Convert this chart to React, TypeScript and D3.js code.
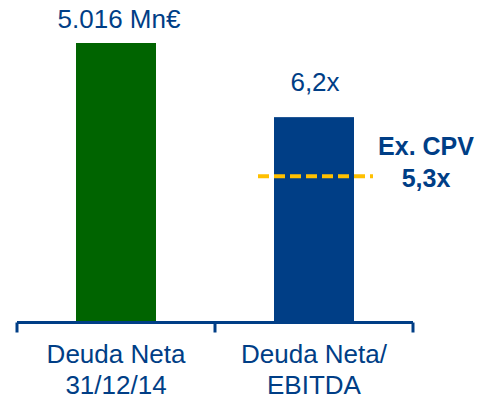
import React from 'react';
import * as d3 from 'd3';

// categories (two lines each)
const categories = ['debt', 'ratio'];
const categoryLabels = [
  ['Deuda Neta', '31/12/14'],
  ['Deuda Neta/', 'EBITDA'],
];

// values
const netDebt = 5016; // Mn€
const netDebtLabel = '5.016 Mn€';
const debtRatio = 6.2; // x EBITDA
const debtRatioLabel = '6,2x';
const exCpvRatio = 5.3;
const exCpvLabel = ['Ex. CPV', '5,3x'];

// the ratio axis is not zero based in the original graphic
const debtDomain = [0, 5016];
const ratioDomain = [3.07, 7.33];

const BLUE = '#003e86';
const GREEN = '#006400';
const YELLOW = '#ffc000';
const FONT = '"Liberation Sans", Arial, sans-serif';

export default function App() {
  const width = 479;
  const height = 400;
  const baseY = 322.5;
  const topY = 43;

  const x = d3.scaleBand().domain(categories).range([17, 413]).padding(0);
  const yDebt = d3.scaleLinear().domain(debtDomain).range([baseY, topY]);
  const yRatio = d3.scaleLinear().domain(ratioDomain).range([baseY, topY]);

  const barW = x.bandwidth() * 0.404;
  const cx = (c) => (x(c) ?? 0) + x.bandwidth() / 2;

  const ticks = [...categories.map((c) => x(c) ?? 0), x.range()[1]];
  const lineY = yRatio(exCpvRatio);

  return (
    <svg
      width={width}
      height={height}
      style={{ position: 'absolute', left: 0, top: 0 }}
      fontFamily={FONT}
    >
      {/* green bar: net debt */}
      <rect
        x={cx('debt') - barW / 2}
        y={yDebt(netDebt)}
        width={barW}
        height={yDebt(0) - yDebt(netDebt)}
        fill={GREEN}
      />
      <text
        x={cx('debt') + 3}
        y={yDebt(netDebt) - 15}
        textAnchor="middle"
        fontSize={26}
        fill={BLUE}
      >
        {netDebtLabel}
      </text>

      {/* blue bar: net debt / ebitda */}
      <rect
        x={cx('ratio') - barW / 2}
        y={yRatio(debtRatio)}
        width={barW}
        height={yRatio(ratioDomain[0]) - yRatio(debtRatio)}
        fill={BLUE}
      />
      <text
        x={cx('ratio') + 1}
        y={yRatio(debtRatio) - 26}
        textAnchor="middle"
        fontSize={26}
        fill={BLUE}
      >
        {debtRatioLabel}
      </text>

      {/* ex. CPV reference */}
      <line
        x1={cx('ratio') - barW / 2 - 16}
        x2={cx('ratio') + barW / 2 + 19}
        y1={lineY}
        y2={lineY}
        stroke={YELLOW}
        strokeWidth={4}
        strokeDasharray="11 5"
      />
      {exCpvLabel.map((l, i) => (
        <text
          key={i}
          x={426}
          y={lineY - 21 + i * 32}
          textAnchor="middle"
          fontSize={25}
          fontWeight="bold"
          fill={BLUE}
        >
          {l}
        </text>
      ))}

      {/* axis */}
      <g stroke={BLUE} strokeWidth={3} fill="none">
        <line x1={x.range()[0]} x2={x.range()[1]} y1={baseY} y2={baseY} />
        {ticks.map((t, i) => (
          <line key={i} x1={t} x2={t} y1={baseY} y2={baseY + 10} />
        ))}
      </g>

      {categories.map((c, i) => (
        <text
          key={c}
          x={cx(c)}
          textAnchor="middle"
          fontSize={26}
          fill={BLUE}
        >
          {categoryLabels[i].map((l, j) => (
            <tspan key={j} x={cx(c)} y={363 + j * 31}>
              {l}
            </tspan>
          ))}
        </text>
      ))}
    </svg>
  );
}
